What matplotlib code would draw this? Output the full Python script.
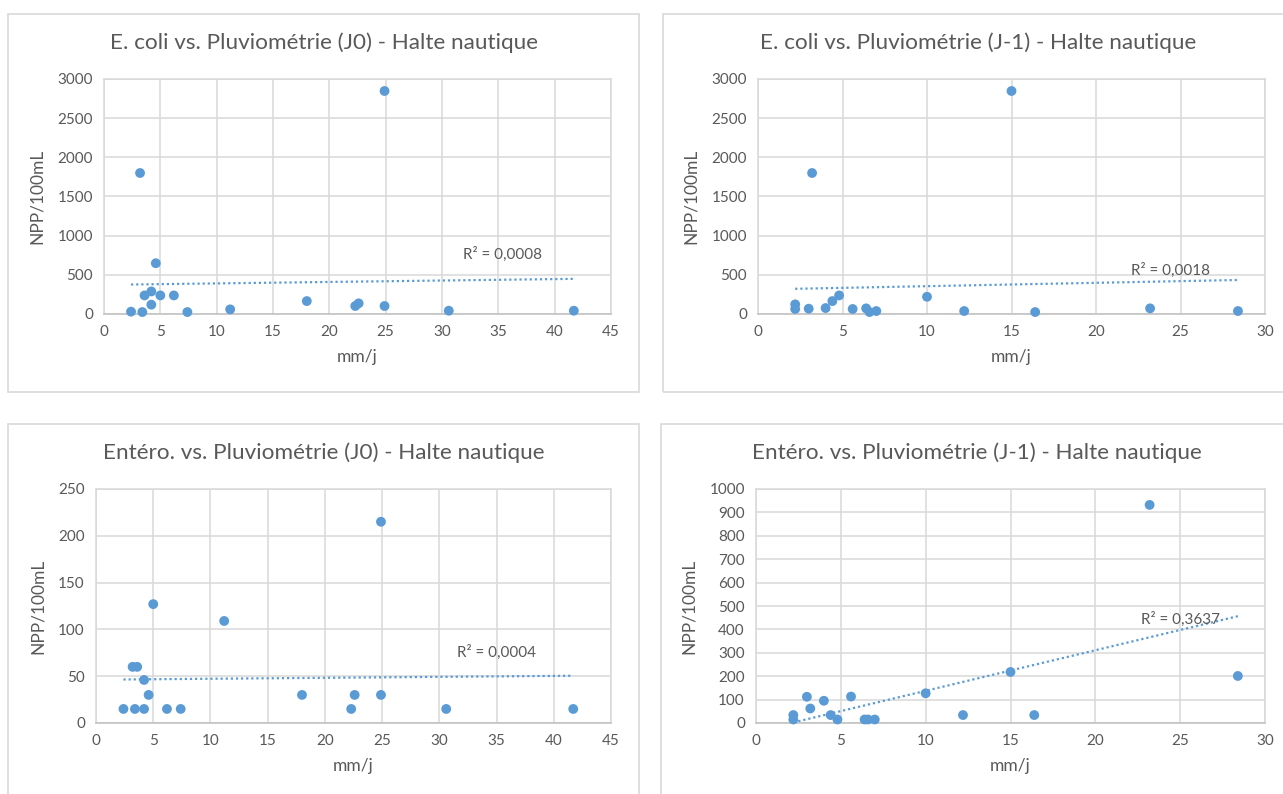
import numpy as np
import matplotlib.pyplot as plt
from matplotlib.patches import Rectangle
from matplotlib.ticker import MultipleLocator

plt.rcParams['font.family'] = ['Lato', 'DejaVu Sans']

# Pluviométrie (mm/j) le jour du prélèvement (J0) et la veille (J-1)
pluie_j0 = [2.4, 3.2, 3.4, 3.6, 4.2, 4.2, 4.6, 5.0, 6.2, 7.4, 11.2, 18.0, 22.3, 22.6, 24.9, 24.9, 30.6, 41.7]
pluie_j1 = [2.2, 2.2, 3.0, 3.2, 4.0, 4.4, 4.8, 5.6, 6.4, 6.6, 7.0, 10.0, 12.2, 15.0, 16.4, 23.2, 28.4]

# E. coli (NPP/100mL)
ecoli_j0 = [30, 1800, 25, 237, 288, 119, 648, 237, 237, 25, 59, 165, 102, 136, 2847, 102, 42, 42]
ecoli_j1 = [123, 64, 68, 1800, 76, 165, 237, 64, 72, 25, 38, 220, 38, 2847, 25, 72, 38]

# Entérocoques (NPP/100mL)
entero_j0 = [15, 60, 15, 60, 46, 15, 30, 127, 15, 15, 109, 30, 15, 30, 215, 30, 15, 15]
entero_j1 = [34, 15, 112, 62, 95, 34, 15, 113, 15, 15, 15, 127, 34, 218, 34, 932, 201]

titres = ["E. coli vs. Pluviométrie (J0) - Halte nautique",
          "E. coli vs. Pluviométrie (J-1) - Halte nautique",
          "Entéro. vs. Pluviométrie (J0) - Halte nautique",
          "Entéro. vs. Pluviométrie (J-1) - Halte nautique"]
r2_textes = ["R² = 0,0008", "R² = 0,0018", "R² = 0,0004", "R² = 0,3637"]

W, H = 1283, 794
bleu = '#5b9bd5'
gris_texte = '#595959'
gris_grille = '#d9d9d9'

fig = plt.figure(figsize=(W / 100, H / 100), dpi=100)

def px_rect(x0, y0, x1, y1):
    return [x0 / W, 1 - y1 / H, (x1 - x0) / W, (y1 - y0) / H]

# cadres des graphiques
for (x0, y0, x1, y1) in [(8, 14, 639, 392), (663, 14, 1294, 392),
                         (8, 424, 639, 810), (661, 424, 1292, 810)]:
    fig.add_artist(Rectangle((x0 / W, 1 - y1 / H), (x1 - x0) / W, (y1 - y0) / H,
                             transform=fig.transFigure, fill=False,
                             edgecolor=gris_grille, linewidth=1.2))

graphs = [
    (pluie_j0, ecoli_j0, px_rect(104, 79, 611, 314), 45, 3000, 500, (35.4, 766), 323.5, 43),
    (pluie_j1, ecoli_j1, px_rect(758, 79, 1265, 314), 30, 3000, 500, (24.4, 562), 978.5, 43),
    (pluie_j0, entero_j0, px_rect(96, 489, 611, 723), 45, 250, 50, (35.0, 76), 323.5, 453),
    (pluie_j1, entero_j1, px_rect(756, 489, 1265, 723), 30, 1000, 100, (25.0, 444), 977, 453),
]

for i, (x, y, pos, xmax, ymax, ystep, r2_pos, tx, ty) in enumerate(graphs):
    ax = fig.add_axes(pos)
    x = np.array(x)
    y = np.array(y)

    # courbe de tendance linéaire
    a, b = np.polyfit(x, y, 1)
    xt = np.array([x.min(), x.max()])
    ax.plot(xt, a * xt + b, color=bleu, linewidth=1.6, linestyle=(0, (1, 1.3)), zorder=2)

    ax.scatter(x, y, s=50, color=bleu, edgecolors='none', zorder=3, clip_on=False)
    ax.text(r2_pos[0], r2_pos[1], r2_textes[i], fontsize=11, color=gris_texte,
            ha='center', va='center')

    ax.set_xlim(0, xmax)
    ax.set_ylim(0, ymax)
    ax.xaxis.set_major_locator(MultipleLocator(5))
    ax.yaxis.set_major_locator(MultipleLocator(ystep))
    ax.grid(True, color=gris_grille, linewidth=1.1)
    ax.set_axisbelow(True)
    for s in ax.spines.values():
        s.set_color(gris_grille)
        s.set_linewidth(1.1)
    ax.spines['bottom'].set_color('#bfbfbf')
    ax.tick_params(length=0, labelsize=11, colors=gris_texte, pad=8)
    ax.set_xlabel('mm/j', fontsize=12.5, color=gris_texte, labelpad=7)
    ax.set_ylabel('NPP/100mL', fontsize=12.5, color=gris_texte, labelpad=9)

    fig.text(tx / W, 1 - ty / H, titres[i], fontsize=16.2, color=gris_texte,
             ha='center', va='center')

fig.savefig('out.png', dpi=100)
